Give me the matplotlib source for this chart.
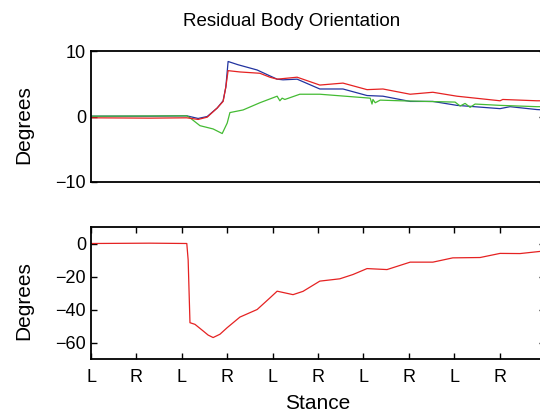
import numpy as np
import matplotlib
matplotlib.use("Agg")
import matplotlib.pyplot as plt

plt.rcParams['font.family'] = ['Liberation Sans', 'DejaVu Sans']

# stance axis values (L/R alternating)
stance_labels = ['L', 'R', 'L', 'R', 'L', 'R', 'L', 'R', 'L', 'R']

# top panel: residual orientation, three components
x_red = [0, 1.30, 2.11, 2.36, 2.56, 2.78, 2.91, 2.97, 3.02, 3.28, 3.72, 3.94, 4.10, 4.54,
         5.04, 5.55, 6.08, 6.43, 7.03, 7.53, 8.06, 9.01, 9.07, 9.82, 10.0]
y_red = [-0.2, -0.25, -0.2, -0.45, -0.1, 1.3, 2.3, 4.5, 7.0, 6.8, 6.6, 6.0, 5.7, 6.0,
         4.8, 5.1, 4.1, 4.2, 3.4, 3.7, 3.1, 2.4, 2.6, 2.4, 2.4]

x_blue = [0, 1.30, 2.11, 2.36, 2.56, 2.78, 2.91, 2.97, 3.02, 3.24, 3.66, 3.94, 4.10, 4.23,
          4.54, 5.04, 5.55, 6.08, 6.43, 7.03, 7.53, 8.06, 9.01, 9.23, 9.82, 10.0]
y_blue = [0.05, 0.05, 0.1, -0.3, 0.0, 1.3, 2.4, 4.5, 8.4, 7.9, 7.1, 6.2, 5.7, 5.6,
          5.7, 4.2, 4.2, 3.2, 3.1, 2.3, 2.3, 1.7, 1.2, 1.5, 1.06, 1.0]

x_green = [0, 2.11, 2.18, 2.40, 2.69, 2.89, 3.00, 3.06, 3.35, 3.72, 4.10, 4.16, 4.21, 4.27,
           4.60, 5.04, 6.15, 6.19, 6.21, 6.26, 6.37, 6.81, 8.02, 8.13, 8.24, 8.35, 8.46,
           9.01, 9.82, 10.0]
y_green = [0.05, 0.1, -0.2, -1.4, -1.9, -2.6, -1.0, 0.6, 1.0, 2.1, 3.1, 2.4, 2.8, 2.6,
           3.4, 3.4, 2.8, 1.9, 2.6, 2.1, 2.5, 2.4, 2.2, 1.6, 2.0, 1.4, 1.9,
           1.7, 1.5, 1.5]

# bottom panel: heading
x_head = [0, 1.30, 2.11, 2.14, 2.18, 2.29, 2.38, 2.47, 2.58, 2.69, 2.84, 3.00, 3.28, 3.66,
          3.94, 4.10, 4.45, 4.67, 5.04, 5.48, 5.77, 6.08, 6.52, 7.03, 7.53, 7.97, 8.57,
          9.01, 9.45, 9.89, 10.0]
y_head = [0, 0.2, 0, -10, -48, -49, -51, -53, -55.5, -57, -55, -51, -44.6, -40,
          -33, -28.9, -31, -29, -22.8, -21.4, -18.8, -15.2, -15.8, -11.3, -11.3, -8.7, -8.5,
          -6, -6.1, -4.8, -4.6]

fig = plt.figure(figsize=(5.4, 4.13), dpi=100)
ax1 = fig.add_axes([91/540, 1-182/413, 454/540, 131/413])
ax2 = fig.add_axes([91/540, 1-359/413, 454/540, 132/413])

ax1.plot(x_blue, y_blue, color='#2233a0', lw=0.9)
ax1.plot(x_green, y_green, color='#44bb33', lw=0.9)
ax1.plot(x_red, y_red, color='#e52222', lw=0.9)
ax1.set_xlim(0, 10)
ax1.set_ylim(-10, 10)
ax1.set_yticks([-10, 0, 10])
ax1.set_xticks([])
ax1.set_ylabel('Degrees', fontsize=15)
ax1.yaxis.set_label_coords(-0.128, 0.435)

fig.text(292/540, 1-22/413, 'Residual Body Orientation', fontsize=13.5,
         ha='center', va='center')

ax2.plot(x_head, y_head, color='#e52222', lw=0.9)
ax2.set_xlim(0, 10)
ax2.set_ylim(-70, 10)
ax2.set_yticks([0, -20, -40, -60])
ax2.set_xticks(np.arange(len(stance_labels)))
ax2.set_xticklabels(stance_labels)
ax2.set_ylabel('Degrees', fontsize=15)
ax2.yaxis.set_label_coords(-0.128, 0.44)
ax2.set_xlabel('Stance', fontsize=15, labelpad=6)

for ax in (ax1, ax2):
    ax.tick_params(direction='in', top=True, right=True, labelsize=13, length=4, width=1)
    for s in ax.spines.values():
        s.set_linewidth(1.3)
ax2.tick_params(axis='x', pad=7)

fig.savefig('out.png', dpi=100)
